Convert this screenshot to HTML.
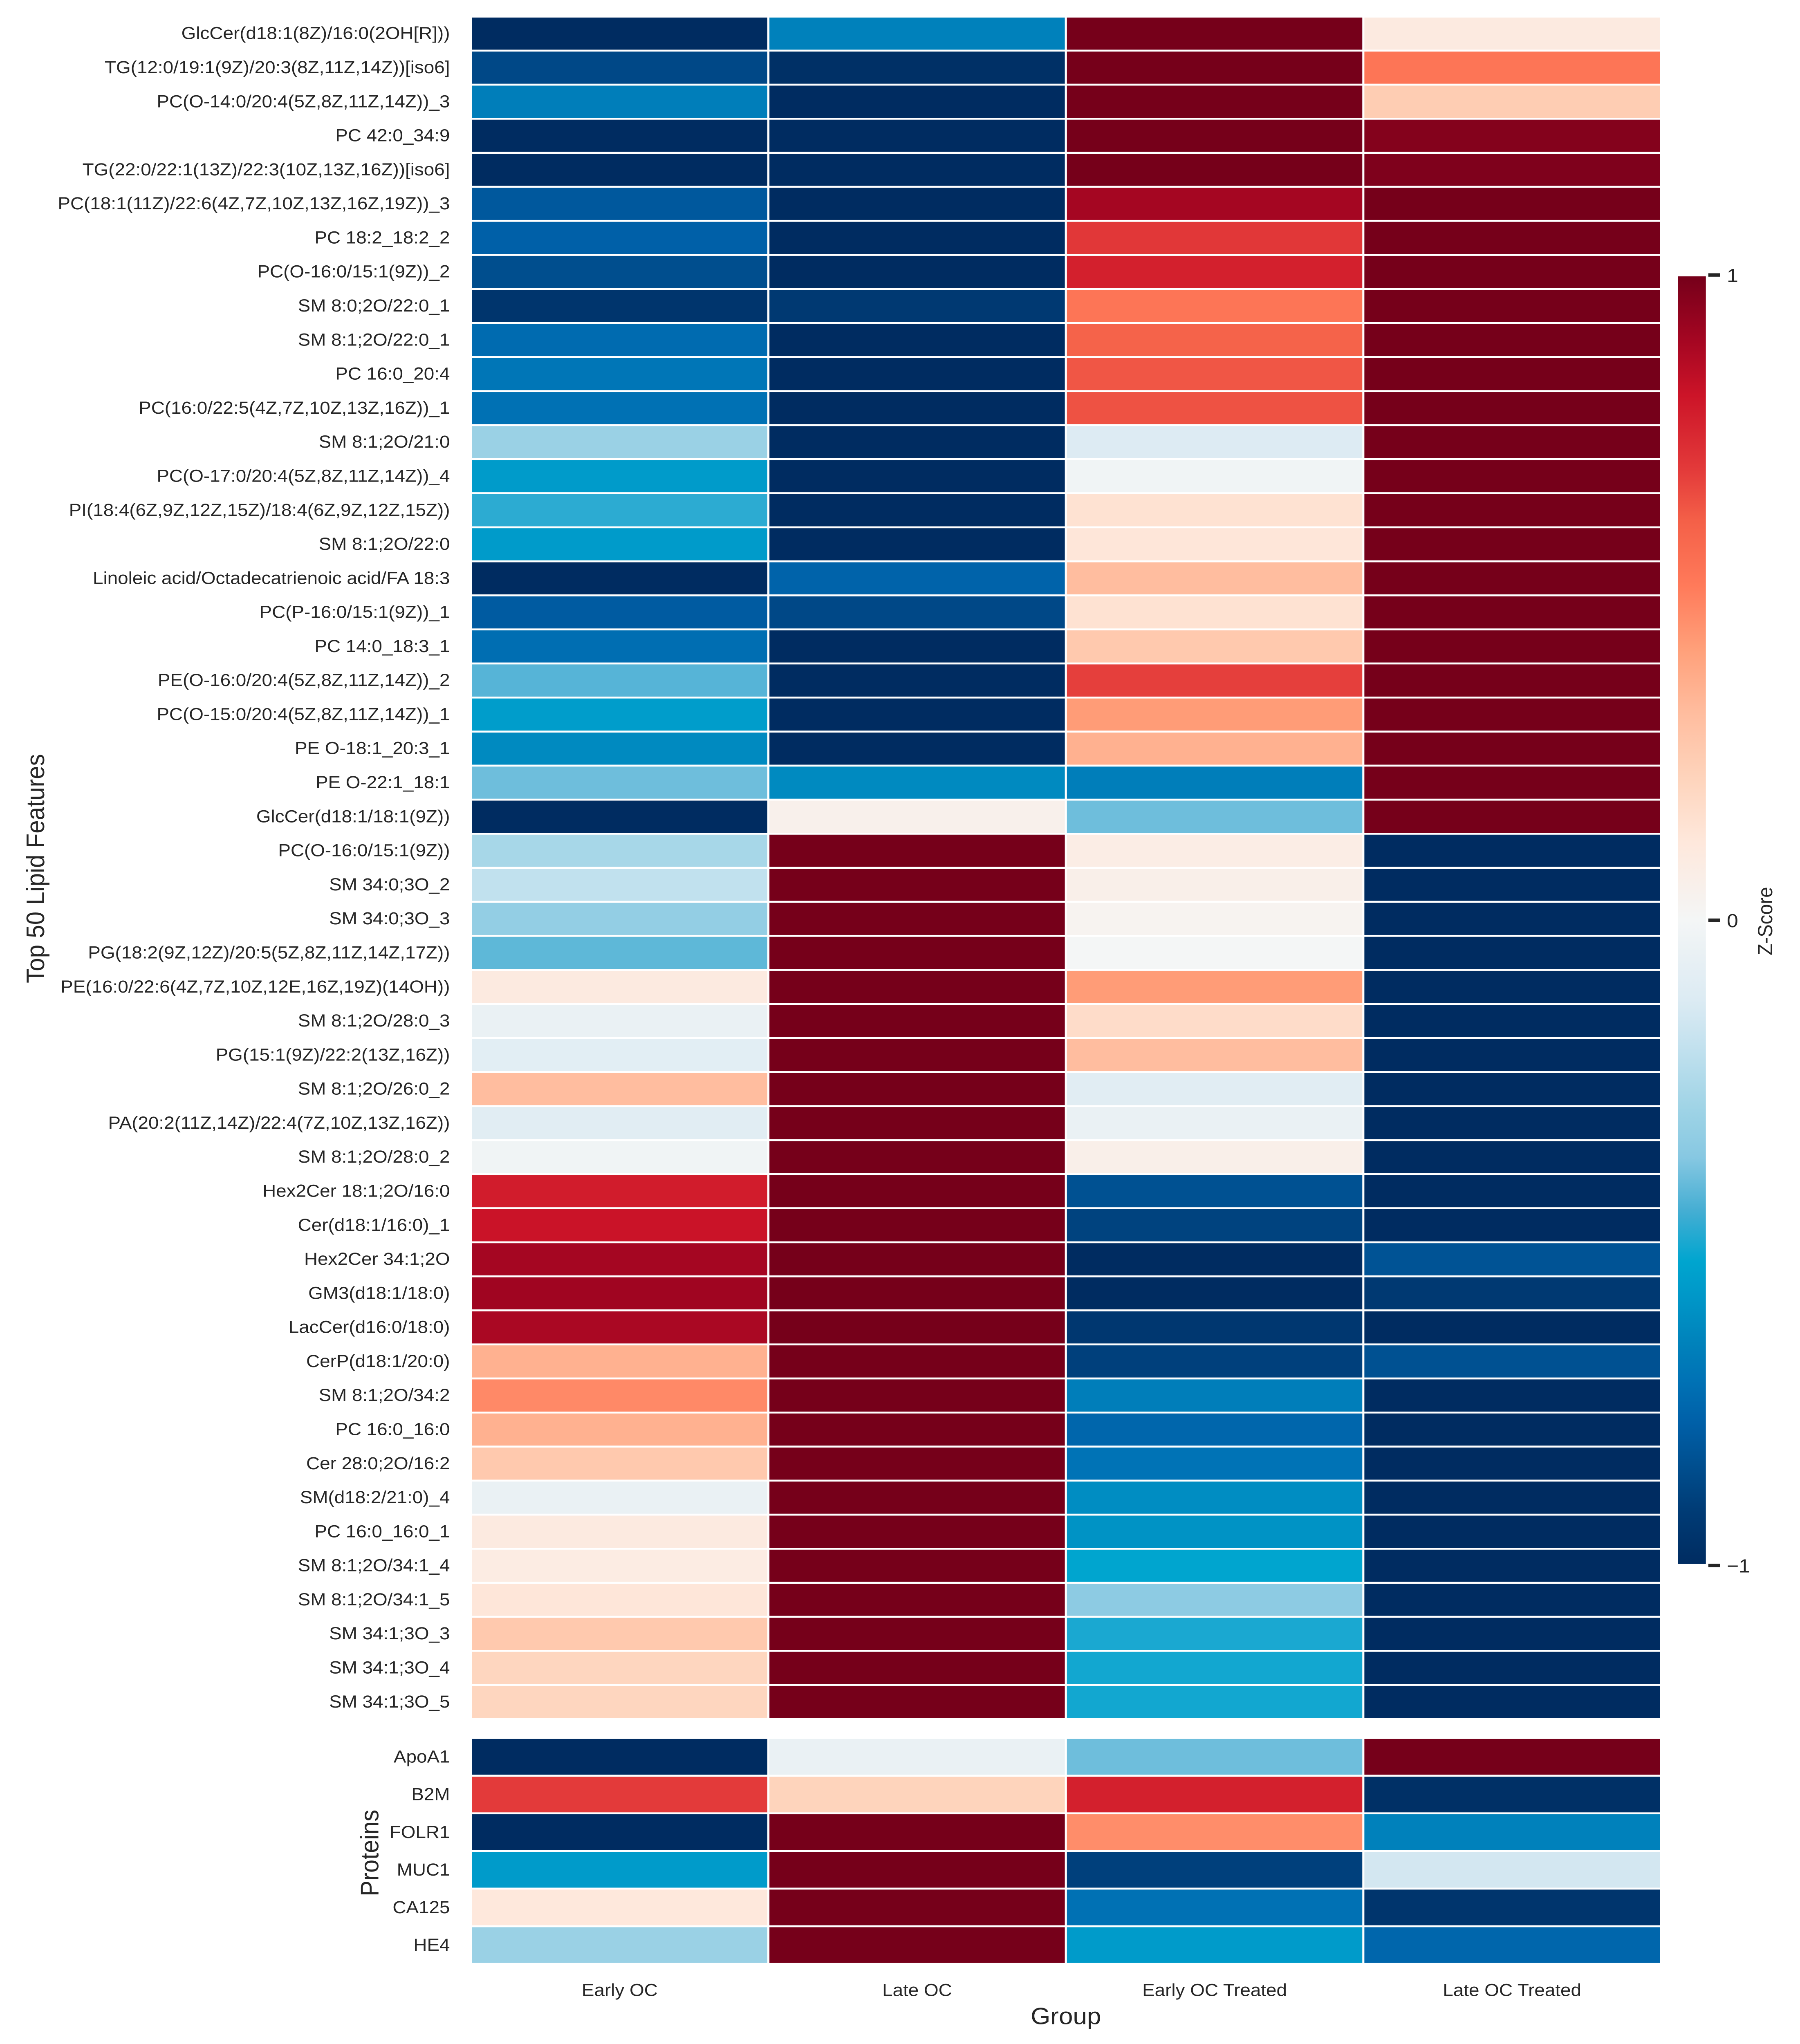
<!DOCTYPE html>
<html lang="en">
<head>
<meta charset="utf-8">
<title>Lipid and protein Z-score heatmap</title>
<style>
html,body{margin:0;padding:0;background:#fff;width:100%;height:100%;overflow:hidden;}
svg{display:block;position:fixed;left:0;top:0;width:100vw;height:100vh;overflow:hidden;}
script{display:none;}
text{font-family:"Liberation Sans",Arial,sans-serif;fill:#262626;}
</style>
</head>
<body>
<svg id="chart" xmlns="http://www.w3.org/2000/svg" viewBox="0 0 4403 5361" preserveAspectRatio="none"></svg>
<script>
const groups = ["Early OC", "Late OC", "Early OC Treated", "Late OC Treated"];
const lipidLabels = [
"GlcCer(d18:1(8Z)/16:0(2OH[R]))","TG(12:0/19:1(9Z)/20:3(8Z,11Z,14Z))[iso6]","PC(O-14:0/20:4(5Z,8Z,11Z,14Z))_3","PC 42:0_34:9",
"TG(22:0/22:1(13Z)/22:3(10Z,13Z,16Z))[iso6]","PC(18:1(11Z)/22:6(4Z,7Z,10Z,13Z,16Z,19Z))_3","PC 18:2_18:2_2","PC(O-16:0/15:1(9Z))_2",
"SM 8:0;2O/22:0_1","SM 8:1;2O/22:0_1","PC 16:0_20:4","PC(16:0/22:5(4Z,7Z,10Z,13Z,16Z))_1","SM 8:1;2O/21:0",
"PC(O-17:0/20:4(5Z,8Z,11Z,14Z))_4","PI(18:4(6Z,9Z,12Z,15Z)/18:4(6Z,9Z,12Z,15Z))","SM 8:1;2O/22:0",
"Linoleic acid/Octadecatrienoic acid/FA 18:3","PC(P-16:0/15:1(9Z))_1","PC 14:0_18:3_1","PE(O-16:0/20:4(5Z,8Z,11Z,14Z))_2",
"PC(O-15:0/20:4(5Z,8Z,11Z,14Z))_1","PE O-18:1_20:3_1","PE O-22:1_18:1","GlcCer(d18:1/18:1(9Z))","PC(O-16:0/15:1(9Z))",
"SM 34:0;3O_2","SM 34:0;3O_3","PG(18:2(9Z,12Z)/20:5(5Z,8Z,11Z,14Z,17Z))","PE(16:0/22:6(4Z,7Z,10Z,12E,16Z,19Z)(14OH))",
"SM 8:1;2O/28:0_3","PG(15:1(9Z)/22:2(13Z,16Z))","SM 8:1;2O/26:0_2","PA(20:2(11Z,14Z)/22:4(7Z,10Z,13Z,16Z))","SM 8:1;2O/28:0_2",
"Hex2Cer 18:1;2O/16:0","Cer(d18:1/16:0)_1","Hex2Cer 34:1;2O","GM3(d18:1/18:0)","LacCer(d16:0/18:0)","CerP(d18:1/20:0)",
"SM 8:1;2O/34:2","PC 16:0_16:0","Cer 28:0;2O/16:2","SM(d18:2/21:0)_4","PC 16:0_16:0_1","SM 8:1;2O/34:1_4","SM 8:1;2O/34:1_5",
"SM 34:1;3O_3","SM 34:1;3O_4","SM 34:1;3O_5"];
const lipidValues = [
[-1,-.66,1,.1],[-.87,-.98,1,.54],[-.67,-1,1,.25],[-1,-1,1,.97],[-1,-1,1,.98],
[-.81,-1,.9,1],[-.78,-1,.71,1],[-.85,-1,.78,1],[-.95,-.93,.54,1],[-.74,-1,.61,1],
[-.7,-1,.64,1],[-.72,-1,.65,1],[-.31,-1,-.12,1],[-.57,-1,-.02,1],[-.48,-1,.15,1],
[-.57,-1,.13,1],[-1,-.77,.32,1],[-.8,-.87,.15,1],[-.73,-1,.27,1],[-.43,-1,.69,1],
[-.56,-1,.43,1],[-.63,-1,.36,1],[-.4,-.63,-.67,1],[-1,.05,-.4,1],[-.27,1,.08,-1],
[-.2,1,.06,-1],[-.33,1,.03,-1],[-.42,1,0,-1],[.1,1,.43,-1],[-.05,1,.18,-1],
[-.09,1,.32,-1],[.32,1,-.1,-1],[-.1,1,-.05,-1],[-.02,1,.06,-1],[.79,1,-.84,-1],
[.82,1,-.89,-1],[.9,1,-1,-.83],[.91,1,-1,-.93],[.89,1,-.94,-1],[.36,1,-.9,-.84],
[.48,1,-.67,-1],[.36,1,-.76,-1],[.27,1,-.71,-1],[-.05,1,-.62,-1],[.1,1,-.6,-1],
[.09,1,-.53,-1],[.13,1,-.35,-1],[.27,1,-.5,-1],[.21,1,-.51,-1],[.21,1,-.51,-1]];
const proteinLabels = ["ApoA1","B2M","FOLR1","MUC1","CA125","HE4"];
const proteinValues = [
[-1,-.05,-.4,1],[.7,.22,.78,-.98],[-1,1,.47,-.66],[-.57,1,-.9,-.15],[.12,1,-.72,-.95],[-.31,1,-.57,-.76]];
const colorbarTicks = [1,0,-1];
const colorbarTickLabels = ["1","0","\u22121"];
const colormapValues = [-1,-.915,-.85,-.78,-.715,-.65,-.585,-.53,-.45,-.368,-.29,-.19,-.124,-.06,0,.12,.22,.32,.42,.52,.62,.70,.815,.9,1];
const colormapColors = ["#002c61","#003c76","#004e8e","#0060a8","#0072b5","#0084bc","#0097c8","#00a5cf","#46aed3","#87c8e2","#a0d4e6","#c5e2ef","#dcebf3","#e8f0f4","#f4f6f6","#fee8dc","#fed4bc","#ffbd9f","#ffa07a","#ff7a5a","#f46048","#e33a3a","#cc1428","#a50622","#76001a"];

const SVGNS = "http://www.w3.org/2000/svg";
const chart = document.getElementById("chart");
const LEFT = 1152, RIGHT = 4062.5;
const LIPID_TOP = 43.5, LIPID_BOTTOM = 4508.5;
const PROT_TOP = 4558.5, PROT_BOTTOM = 5151;
const GRID = 5;

function xCol(i){ return LEFT + i * (RIGHT - LEFT) / groups.length; }
function yLipid(i){ return LIPID_TOP + i * (LIPID_BOTTOM - LIPID_TOP) / lipidLabels.length; }
function yProtein(i){ return PROT_TOP + i * (PROT_BOTTOM - PROT_TOP) / proteinLabels.length; }
function yBar(v){ return 2413.5 - v * 1692.3; }
function hexToRgb(h){ return [1,3,5].map(function(k){ return parseInt(h.substr(k,2),16); }); }
function colorFor(v){
  const c = Math.max(-1, Math.min(1, v));
  for(let i = 1; i < colormapValues.length; i++){
    if(c <= colormapValues[i]){
      const t = (c - colormapValues[i-1]) / (colormapValues[i] - colormapValues[i-1]);
      const a = hexToRgb(colormapColors[i-1]), b = hexToRgb(colormapColors[i]);
      return "rgb(" + a.map(function(x,k){ return Math.round(x + (b[k]-x)*t); }).join(",") + ")";
    }
  }
  return colormapColors[colormapColors.length-1];
}
function mk(tag, parent){
  const el = document.createElementNS(SVGNS, tag);
  parent.appendChild(el);
  return el;
}
function slug(s){ return s.toLowerCase().replace(/[^a-z0-9]+/g,"-").replace(/^-|-$/g,""); }

function drawPanel(name, labels, values, yFn, labelOffset){
  const g = mk("g", chart);
  
  
  labels.forEach(function(label, r){
    values[r].forEach(function(v, c){
      const cell = mk("rect", g);
      cell.setAttribute("x", xCol(c));
      cell.setAttribute("y", yFn(r));
      cell.setAttribute("width", xCol(c+1) - xCol(c));
      cell.setAttribute("height", yFn(r+1) - yFn(r));
      cell.setAttribute("fill", colorFor(v));
      cell.setAttribute("stroke", "#ffffff");
      cell.setAttribute("stroke-width", GRID);
      
      
    });
    const t = mk("text", chart);
    t.setAttribute("x", 1100.5);
    t.setAttribute("y", (yFn(r) + yFn(r+1)) / 2 + labelOffset);
    t.setAttribute("text-anchor", "end");
    t.setAttribute("font-size", "45.83");
    
    
    t.textContent = label;
  });
}
drawPanel("lipid", lipidLabels, lipidValues, yLipid, 14.5);
drawPanel("protein", proteinLabels, proteinValues, yProtein, 15);

groups.forEach(function(label, i){
  const t = mk("text", chart);
  t.setAttribute("x", (xCol(i) + xCol(i+1)) / 2);
  t.setAttribute("y", 5235);
  t.setAttribute("text-anchor", "middle");
  t.setAttribute("font-size", "45.83");
  
  
  t.textContent = label;
});

const xTitle = mk("text", chart);
xTitle.setAttribute("x", (LEFT + RIGHT) / 2);
xTitle.setAttribute("y", 5309);
xTitle.setAttribute("text-anchor", "middle");
xTitle.setAttribute("font-size", "62");


xTitle.textContent = "Group";

const lipidTitle = mk("text", chart);
lipidTitle.setAttribute("transform", "translate(108,2278) rotate(-90)");
lipidTitle.setAttribute("text-anchor", "middle");
lipidTitle.setAttribute("font-size", "62.5");


lipidTitle.textContent = "Top 50 Lipid Features";

const proteinTitle = mk("text", chart);
proteinTitle.setAttribute("transform", "translate(925.5,4860) rotate(-90)");
proteinTitle.setAttribute("text-anchor", "middle");
proteinTitle.setAttribute("font-size", "62");


proteinTitle.textContent = "Proteins";

/* colour bar */
const defs = mk("defs", chart);
const grad = mk("linearGradient", defs);
grad.setAttribute("id", "cbar-gradient");
grad.setAttribute("x1", "0"); grad.setAttribute("y1", "1");
grad.setAttribute("x2", "0"); grad.setAttribute("y2", "0");
colormapValues.forEach(function(v, i){
  const s = mk("stop", grad);
  s.setAttribute("offset", (v + 1) / 2);
  s.setAttribute("stop-color", colormapColors[i]);
});
const cbar = mk("rect", chart);
cbar.setAttribute("x", 4104);
cbar.setAttribute("y", yBar(1) + 3.7);
cbar.setAttribute("width", 68.7);
cbar.setAttribute("height", yBar(-1) - yBar(1) - 7.4);
cbar.setAttribute("fill", "url(#cbar-gradient)");



colorbarTicks.forEach(function(v, i){
  const tick = mk("rect", chart);
  tick.setAttribute("x", 4178.7);
  tick.setAttribute("y", yBar(v) - 4.5);
  tick.setAttribute("width", 28.5);
  tick.setAttribute("height", 9);
  tick.setAttribute("fill", "#262626");
  
  
  const t = mk("text", chart);
  t.setAttribute("x", 4224);
  t.setAttribute("y", yBar(v) + 18.5);
  t.setAttribute("font-size", "50");
  
  
  t.textContent = colorbarTickLabels[i];
});

const cbarTitle = mk("text", chart);
cbarTitle.setAttribute("transform", "translate(4335,2416) rotate(-90)");
cbarTitle.setAttribute("text-anchor", "middle");
cbarTitle.setAttribute("font-size", "50.5");


cbarTitle.textContent = "Z-Score";
</script>
</body>
</html>
